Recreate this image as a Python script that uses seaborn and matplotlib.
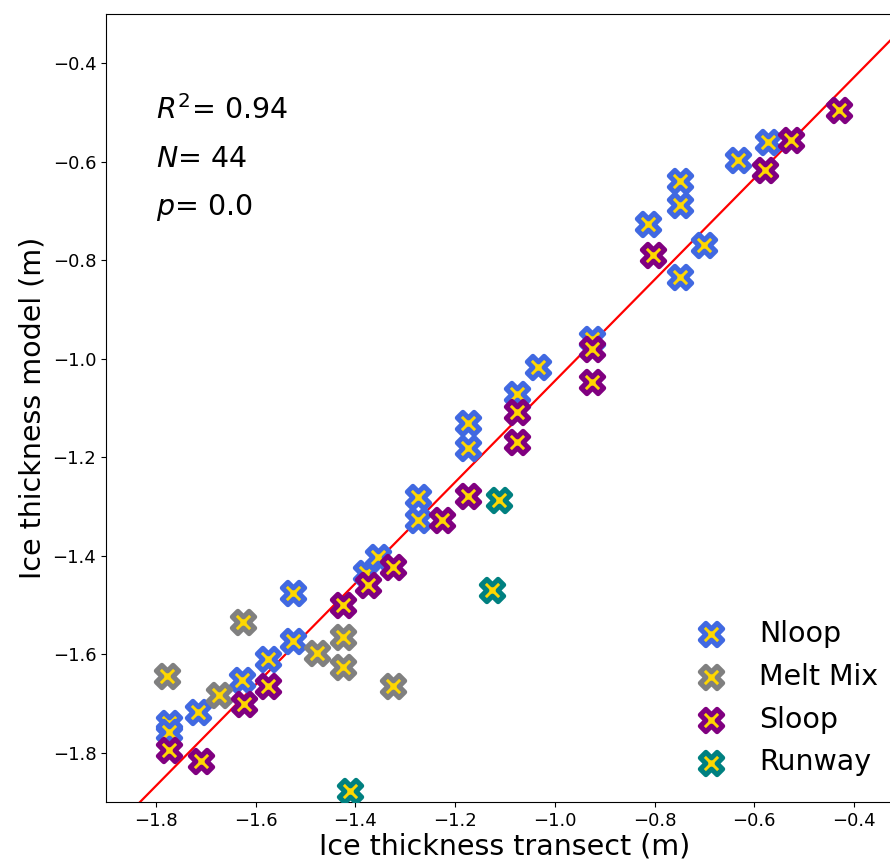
import matplotlib
matplotlib.use("Agg")
import matplotlib.pyplot as plt
import seaborn as sns
import numpy as np
import pandas as pd

# ---- data ----
nloop_x = [-1.773, -1.773, -1.716, -1.627, -1.576, -1.526, -1.526, -1.379, -1.355,
           -1.275, -1.275, -1.175, -1.175, -1.076, -1.034, -0.926, -0.813, -0.750,
           -0.750, -0.750, -0.702, -0.632, -0.572]
nloop_y = [-1.740, -1.757, -1.717, -1.652, -1.610, -1.573, -1.475, -1.435, -1.402,
           -1.280, -1.327, -1.130, -1.182, -1.072, -1.016, -0.959, -0.727, -0.639,
           -0.688, -0.835, -0.769, -0.596, -0.560]

melt_x = [-1.777, -1.625, -1.673, -1.476, -1.424, -1.424, -1.325]
melt_y = [-1.645, -1.535, -1.683, -1.597, -1.565, -1.626, -1.664]

sloop_x = [-1.773, -1.710, -1.623, -1.576, -1.424, -1.375, -1.325, -1.226, -1.175,
           -1.076, -1.076, -0.926, -0.926, -0.803, -0.579, -0.526, -0.430]
sloop_y = [-1.794, -1.816, -1.700, -1.664, -1.500, -1.459, -1.422, -1.327, -1.279,
           -1.108, -1.170, -0.981, -1.047, -0.790, -0.617, -0.555, -0.495]

runway_x = [-1.410, -1.112, -1.126]
runway_y = [-1.878, -1.287, -1.469]

series_names = ["Nloop", "Melt Mix", "Sloop", "Runway"]
edge_colors = ["royalblue", "gray", "purple", "teal"]

fit_slope = 1.028
fit_intercept = -0.017

stats_text = [r"$R^2$= 0.94", r"$N$= 44", r"$p$= 0.0"]

# ---- figure ----
fig = plt.figure(figsize=(8.90, 8.64), dpi=100)
ax = fig.add_axes([106 / 890, 62 / 864, 798 / 890, 788 / 864])

series = [(nloop_x, nloop_y), (melt_x, melt_y), (sloop_x, sloop_y), (runway_x, runway_y)]
for (xs, ys), name, ec in zip(series, series_names, edge_colors):
    df = pd.DataFrame({"x": xs, "y": ys})
    sns.scatterplot(data=df, x="x", y="y", ax=ax, marker="X", s=260,
                    color="gold", edgecolor=ec, linewidth=3.6, label=name, zorder=3)

xl = np.array([-1.9, -0.3])
ax.plot(xl, fit_slope * xl + fit_intercept, color="red", lw=1.6, zorder=2)

ax.set_xlim(-1.9, -0.3)
ax.set_ylim(-1.9, -0.3)
ax.set_xticks([-1.8, -1.6, -1.4, -1.2, -1.0, -0.8, -0.6, -0.4])
ax.set_yticks([-1.8, -1.6, -1.4, -1.2, -1.0, -0.8, -0.6, -0.4])
ax.tick_params(labelsize=13)
ax.set_xlabel("Ice thickness transect (m)", fontsize=20.5, labelpad=2)
ax.set_ylabel("Ice thickness model (m)", fontsize=20.5)

for i, t in enumerate(stats_text):
    ax.text(-1.8, -0.495 - 0.099 * i, t, fontsize=20.5, va="center", ha="left")

ax.legend(loc="lower right", frameon=False, fontsize=20.5, labelspacing=0.52,
          handletextpad=0.7)

fig.savefig("out.png", dpi=100)
